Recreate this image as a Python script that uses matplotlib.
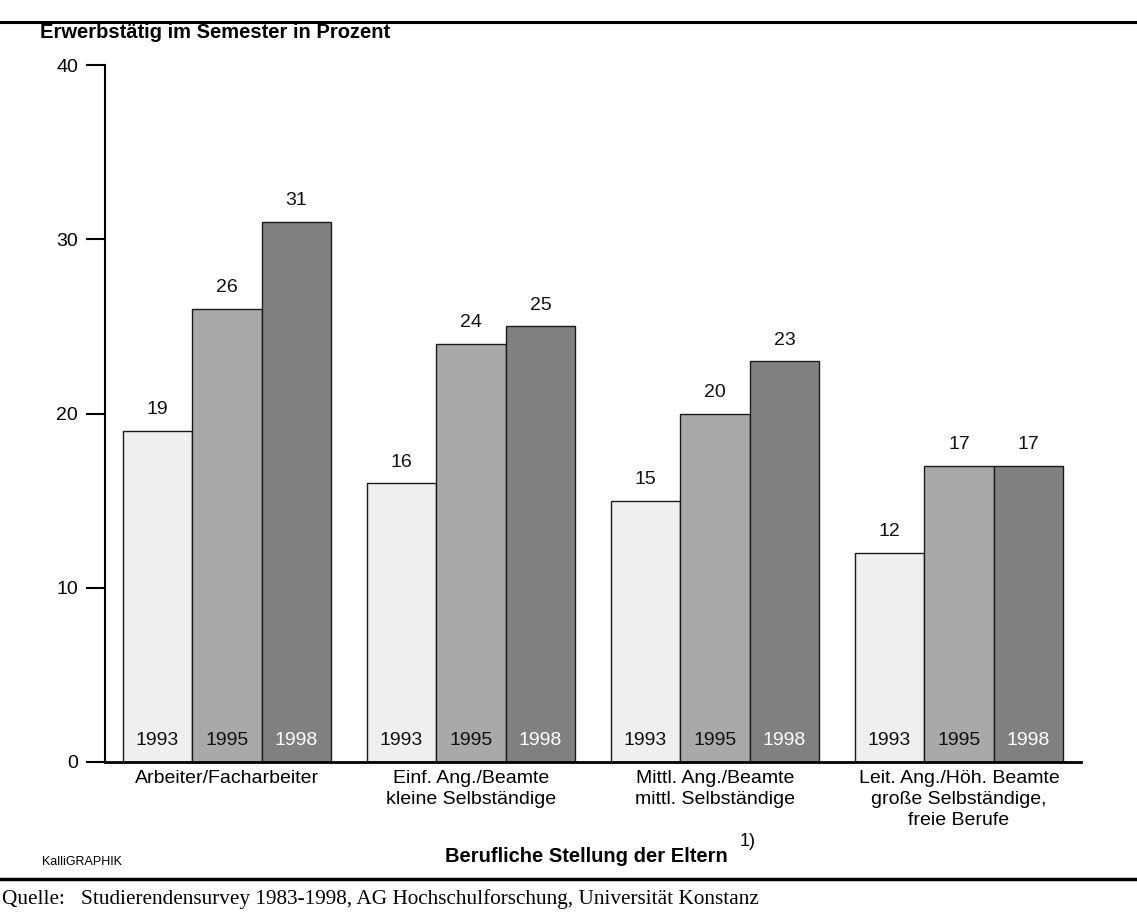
import matplotlib
matplotlib.use("Agg")
import matplotlib.pyplot as plt
import numpy as np

categories = ["Arbeiter/Facharbeiter",
              "Einf. Ang./Beamte\nkleine Selbständige",
              "Mittl. Ang./Beamte\nmittl. Selbständige",
              "Leit. Ang./Höh. Beamte\ngroße Selbständige,\nfreie Berufe"]
years = ["1993", "1995", "1998"]
values_1993 = [19, 16, 15, 12]
values_1995 = [26, 24, 20, 17]
values_1998 = [31, 25, 23, 17]
yticks = [0, 10, 20, 30, 40]

series = [values_1993, values_1995, values_1998]
colors = ["#efefef", "#a9a9a9", "#808080"]
year_colors = ["#111111", "#111111", "#ffffff"]

plt.rcParams['font.family'] = ['Liberation Sans', 'DejaVu Sans']

W, H = 1137, 917
fig = plt.figure(figsize=(W / 100, H / 100), dpi=100)
ax = fig.add_axes([105 / W, 1 - 762 / H, (1081 - 105) / W, (762 - 65) / H])

x = np.arange(len(categories))
bw = 69.5 / 244
for i, (vals, c) in enumerate(zip(series, colors)):
    pos = x + (i - 1) * bw
    ax.bar(pos, vals, width=bw, color=c, edgecolor="#1a1a1a", linewidth=1.0, zorder=2)
    for p, v in zip(pos, vals):
        ax.annotate(str(v), (p, v), xytext=(0, 9), textcoords="offset points",
                    ha="center", va="bottom", fontsize=14, color="#111111")
        ax.text(p, 1.25, years[i], ha="center", va="center", fontsize=14,
                color=year_colors[i], zorder=3)

ax.set_xlim(-0.5, 3.5)
ax.set_ylim(0, 40)
ax.set_yticks(yticks)
ax.set_yticklabels([str(t) for t in yticks], fontsize=14)
ax.set_xticks(x)
ax.set_xticklabels(categories, fontsize=14, linespacing=1.3, va="top")
ax.tick_params(axis="x", length=0, pad=6)
ax.tick_params(axis="y", length=13.5, width=1.5, pad=6)
for s in ["top", "right"]:
    ax.spines[s].set_visible(False)
ax.spines["left"].set_linewidth(1.5)
ax.spines["bottom"].set_linewidth(2.0)

fig.text(40 / W, 1 - 32 / H, "Erwerbstätig im Semester in Prozent", fontsize=14.5,
         fontweight="bold", va="center", ha="left")
fig.text(445 / W, 1 - 856 / H, "Berufliche Stellung der Eltern", fontsize=14.5,
         fontweight="bold", va="center", ha="left")
fig.text(740 / W, 1 - 842 / H, "1)", fontsize=13, va="center", ha="left")
fig.text(42 / W, 1 - 862 / H, "KalliGRAPHIK", fontsize=9, va="center", ha="left")

fig.add_artist(plt.Line2D([0, 1], [1 - 22 / H, 1 - 22 / H], color="black", linewidth=2.2))
fig.add_artist(plt.Line2D([0, 1], [1 - 879 / H, 1 - 879 / H], color="black", linewidth=2.5))

fig.text(2 / W, 1 - 899 / H,
         "Quelle:   Studierendensurvey 1983-1998, AG Hochschulforschung, Universität Konstanz",
         fontsize=15.3, family=["Liberation Serif", "DejaVu Serif"], va="center", ha="left")

fig.savefig("out.png", dpi=100)
